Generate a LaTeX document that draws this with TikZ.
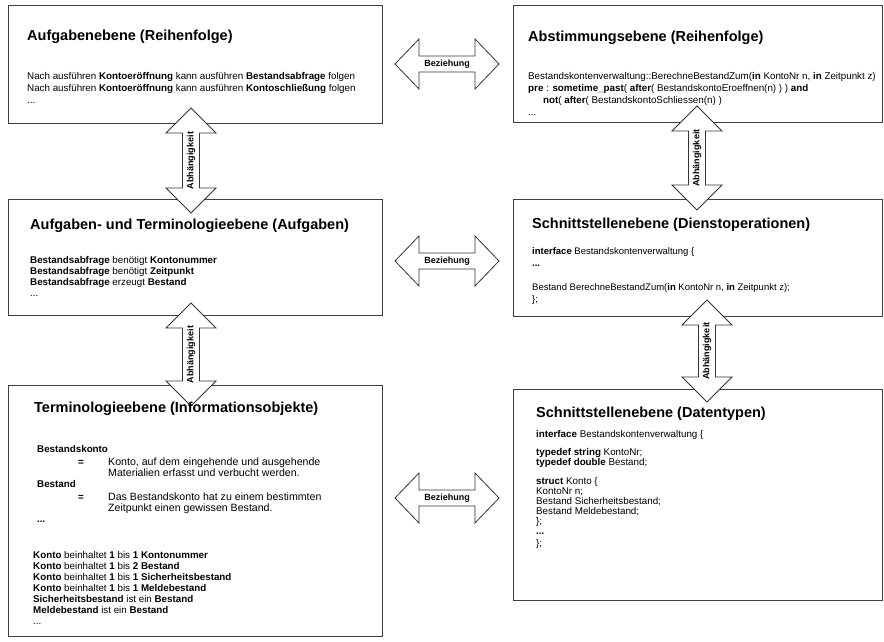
\documentclass[tikz,border=0pt]{standalone}
\usepackage{fontspec}
\setmainfont{Liberation Sans}
\newcommand\myHArrow[2]{%
  \draw[blk] (#1,#2) -- ++(24,-25) -- ++(0,17) -- ++(56,0) -- ++(0,-17) -- ++(24,25)
    -- ++(-24,25) -- ++(0,-17) -- ++(-56,0) -- ++(0,17) -- cycle;}
\newcommand\myVArrow[3]{%
  \draw[blk] (#1,#2) -- ++(25,25) -- ++(-16.5,0) -- ++(0,#3-50) -- ++(16.5,0) -- ++(-25,25)
    -- ++(-25,-25) -- ++(16.5,0) -- ++(0,50-#3) -- ++(-16.5,0) -- cycle;}
\begin{document}
\begin{tikzpicture}[x=1pt,y=-1pt,
  box/.style={draw=black!75, line width=0.9pt, anchor=north west, inner sep=0, outer sep=0},
  ttl/.style={anchor=base west, inner sep=0, font=\fontsize{14.5}{17}\selectfont\bfseries},
  ln/.style={anchor=base west, inner sep=0, font=\fontsize{9.8}{11}\selectfont},
  lnd/.style={anchor=base west, inner sep=0, font=\fontsize{9.5}{11}\selectfont},
  lnx/.style={anchor=base west, inner sep=0, font=\fontsize{10.6}{12}\selectfont},
  blk/.style={draw=black!80, line width=0.8pt, fill=white},
  lbl/.style={inner sep=0, font=\fontsize{9}{10}\selectfont\bfseries}]
\useasboundingbox (0,0) rectangle (884,642);
\fill[white] (0,0) rectangle (884,642);
% boxes
\node[box, minimum width=374pt, minimum height=118pt] (A) at (8,5) {};
\node[box, minimum width=369pt, minimum height=117pt] (B) at (513,5) {};
\node[box, minimum width=374pt, minimum height=116pt] (C) at (8,199) {};
\node[box, minimum width=369pt, minimum height=117pt] (D) at (513,199) {};
\node[box, minimum width=374pt, minimum height=251pt] (E) at (8,385) {};
\node[box, minimum width=369pt, minimum height=211pt] (F) at (513,389) {};
% arrows
\myHArrow{395}{64}
\myHArrow{395}{261}
\myHArrow{395}{498}
\myVArrow{191}{108}{105}
\myVArrow{191}{303}{103}
\myVArrow{697}{106}{104}
\myVArrow{707}{300}{102}
\node[lbl] (r1) at (447,64) {Beziehung};
\node[lbl] (r2) at (447,261) {Beziehung};
\node[lbl] (r3) at (447,498) {Beziehung};
\node[lbl, rotate=90] (d1) at (191,160.5) {Abhängigkeit};
\node[lbl, rotate=90] (d2) at (191,354.5) {Abhängigkeit};
\node[lbl, rotate=90] (d3) at (697,158) {Abhängigkeit};
\node[lbl, rotate=90] (d4) at (707,351) {Abhängigkeit};
% box A
\node[ttl] (At) at (27,41) {Aufgabenebene (Reihenfolge)};
\node[ln] (A1) at (27,80) {Nach ausführen \textbf{Kontoeröffnung} kann ausführen \textbf{Bestandsabfrage} folgen};
\node[ln] (A2) at (27,91.5) {Nach ausführen \textbf{Kontoeröffnung} kann ausführen \textbf{Kontoschließung} folgen};
\node[ln] (A3) at (27,103) {...};
% box B
\node[ttl] (Bt) at (528,42) {Abstimmungsebene (Reihenfolge)};
\node[ln] (B1) at (528,80) {Bestandskontenverwaltung::BerechneBestandZum(\textbf{in} KontoNr n, \textbf{in} Zeitpunkt z)};
\node[ln] (B2) at (528,91.5) {\textbf{pre} : \textbf{sometime\_past}( \textbf{after}( BestandskontoEroeffnen(n) ) ) \textbf{and}};
\node[ln] (B3) at (543,103) {\textbf{not}( \textbf{after}( BestandskontoSchliessen(n) )};
\node[ln] (B4) at (528,115) {...};
% box C
\node[ttl] (Ct) at (30,229) {Aufgaben- und Terminologieebene (Aufgaben)};
\node[ln] (C1) at (30,263) {\textbf{Bestandsabfrage} benötigt \textbf{Kontonummer}};
\node[ln] (C2) at (30,274) {\textbf{Bestandsabfrage} benötigt \textbf{Zeitpunkt}};
\node[ln] (C3) at (30,285) {\textbf{Bestandsabfrage} erzeugt \textbf{Bestand}};
\node[ln] (C4) at (30,296) {...};
% box D
\node[ttl] (Dt) at (532,228) {Schnittstellenebene (Dienstoperationen)};
\node[lnd] (D1) at (532,254) {\textbf{interface} Bestandskontenverwaltung \{};
\node[lnd] (D2) at (532,266) {\textbf{...}};
\node[lnd] (D3) at (532,290) {Bestand BerechneBestandZum(\textbf{in} KontoNr n, \textbf{in} Zeitpunkt z);};
\node[lnd] (D4) at (532,302) {\};};
% box E
\node[ttl] (Et) at (34,412) {Terminologieebene (Informationsobjekte)};
\node[ln] (E1) at (37,452) {\textbf{Bestandskonto}};
\node[ln] (E2) at (78,465) {\textbf{=}};
\node[lnx] (E3) at (108,465) {Konto, auf dem eingehende und ausgehende};
\node[lnx] (E4) at (108,476) {Materialien erfasst und verbucht werden.};
\node[ln] (E5) at (37,487) {\textbf{Bestand}};
\node[ln] (E6) at (78,500) {\textbf{=}};
\node[lnx] (E7) at (108,500) {Das Bestandskonto hat zu einem bestimmten};
\node[lnx] (E8) at (108,511) {Zeitpunkt einen gewissen Bestand.};
\node[ln] (E9) at (37,522) {\textbf{...}};
\node[ln] (E10) at (33,558) {\textbf{Konto} beinhaltet \textbf{1} bis \textbf{1 Kontonummer}};
\node[ln] (E11) at (33,569) {\textbf{Konto} beinhaltet \textbf{1} bis \textbf{2 Bestand}};
\node[ln] (E12) at (33,580) {\textbf{Konto} beinhaltet \textbf{1} bis \textbf{1 Sicherheitsbestand}};
\node[ln] (E13) at (33,591) {\textbf{Konto} beinhaltet \textbf{1} bis \textbf{1 Meldebestand}};
\node[ln] (E14) at (33,602) {\textbf{Sicherheitsbestand} ist ein \textbf{Bestand}};
\node[ln] (E15) at (33,613) {\textbf{Meldebestand} ist ein \textbf{Bestand}};
\node[ln] (E16) at (33,624) {...};
% box F
\node[ttl] (Ft) at (536,417) {Schnittstellenebene (Datentypen)};
\node[ln] (F1) at (536,437) {\textbf{interface} Bestandskontenverwaltung \{};
\node[ln] (F2) at (536,455) {\textbf{typedef string} KontoNr;};
\node[ln] (F3) at (536,465) {\textbf{typedef double} Bestand;};
\node[ln] (F4) at (536,484) {\textbf{struct} Konto \{};
\node[ln] (F5) at (536,494) {KontoNr n;};
\node[ln] (F6) at (536,504) {Bestand Sicherheitsbestand;};
\node[ln] (F7) at (536,514) {Bestand Meldebestand;};
\node[ln] (F8) at (536,524) {\};};
\node[ln] (F9) at (536,534) {\textbf{...}};
\node[ln] (F10) at (536,546) {\};};
\end{tikzpicture}
\end{document}
